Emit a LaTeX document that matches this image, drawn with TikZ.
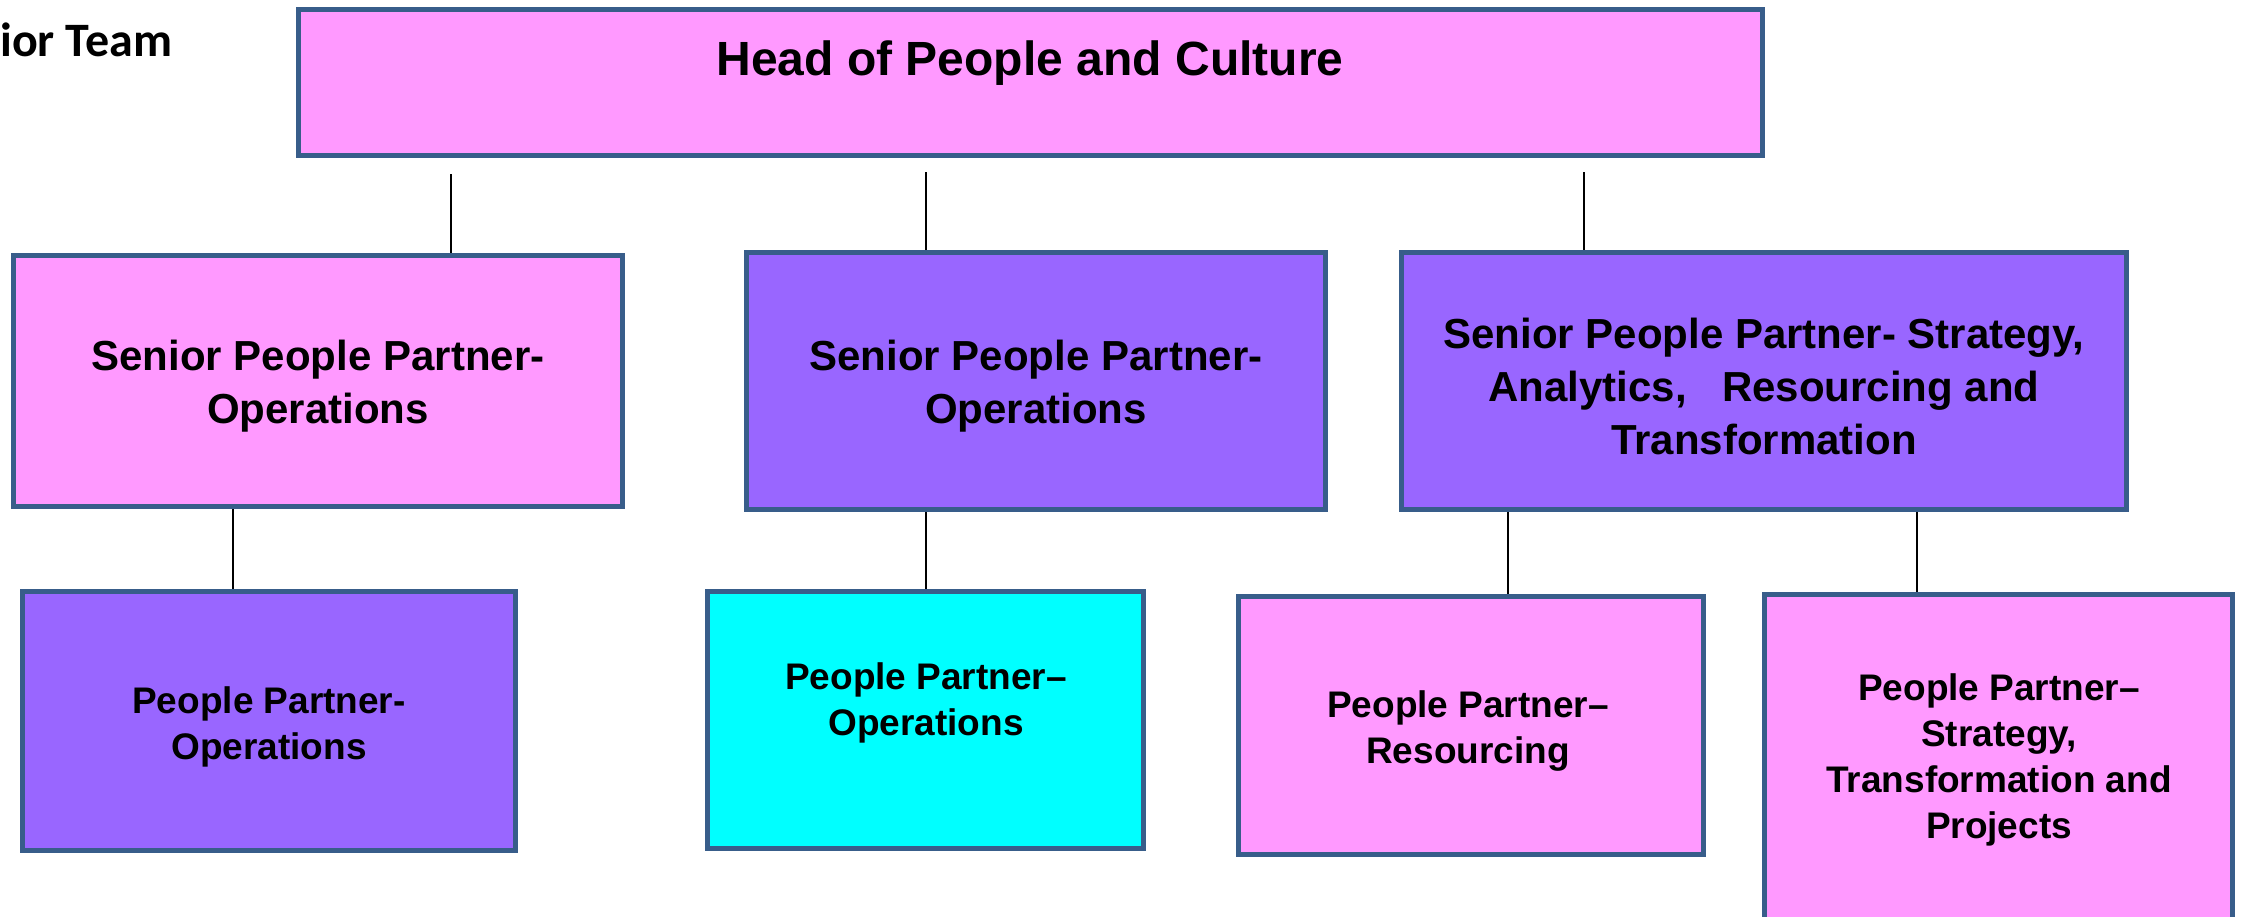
\documentclass[tikz,border=0pt]{standalone}
\usepackage{fontspec}
\setmainfont{Liberation Sans}
\newfontfamily\calibri{Carlito}
\definecolor{pinkf}{RGB}{255,153,255}
\definecolor{purplef}{RGB}{153,102,255}
\definecolor{cyanf}{RGB}{0,255,255}
\definecolor{edgec}{RGB}{56,93,138}
\begin{document}
\begin{tikzpicture}[x=1pt,y=-1pt,
  box/.style={draw=edgec, line width=5pt, rectangle, inner sep=0pt},
  bigtxt/.style={inner sep=0pt, align=center, font=\bfseries\fontsize{42}{53}\selectfont},
  smalltxt/.style={inner sep=0pt, align=center, font=\bfseries\fontsize{37}{46}\selectfont},
  conn/.style={draw=black, line width=1.6pt}]
\useasboundingbox (0,0) rectangle (2243,916);
% title fragment
\node[anchor=base west, inner sep=0pt] (senior) at (0,56) {\calibri\bfseries\fontsize{48}{58}\selectfont ior Team};
% boxes
\node[box, fill=pinkf, minimum width=1464pt, minimum height=146pt] (top) at (1030.5,82.5) {};
\node[anchor=base, inner sep=0pt] (toptext) at (1030,75) {\bfseries\fontsize{48}{58}\selectfont Head of People and Culture};
\node[box, fill=pinkf, minimum width=609pt, minimum height=251pt] (A) at (318,381) {};
\node[box, fill=purplef, minimum width=579pt, minimum height=257pt] (B) at (1036,381) {};
\node[box, fill=purplef, minimum width=725pt, minimum height=257pt] (C) at (1764,381) {};
\node[box, fill=purplef, minimum width=493pt, minimum height=259pt] (D) at (269,721) {};
\node[box, fill=cyanf, minimum width=436pt, minimum height=257pt] (E) at (925.5,720) {};
\node[box, fill=pinkf, minimum width=465pt, minimum height=258pt] (F) at (1471,725.5) {};
\node[box, fill=pinkf, minimum width=468pt, minimum height=325pt] (G) at (1998.5,757) {};
% texts
\node[bigtxt] (At) at (318,386) {Senior People Partner-\\Operations};
\node[bigtxt] (Bt) at (1036,386) {Senior People Partner-\\Operations};
\node[bigtxt] (Ct) at (1764,386) {Senior People Partner- Strategy,\\Analytics,\ \ \ Resourcing and\\Transformation};
\node[smalltxt] (Dt) at (269,727) {People Partner-\\Operations};
\node[smalltxt] (Et) at (926,703) {People Partner--\\Operations};
\node[smalltxt] (Ft) at (1468,731) {People Partner--\\Resourcing};
\node[smalltxt] (Gt) at (1999,760) {People Partner--\\Strategy,\\Transformation and\\Projects};
% connectors
\coordinate (c1) at (451,174);
\coordinate (c2) at (926,172);
\coordinate (c3) at (1584,172);
\draw[conn] (c1) -- (c1 |- A.north);
\draw[conn] (c2) -- (c2 |- B.north);
\draw[conn] (c3) -- (c3 |- C.north);
\coordinate (d1) at (233,0);
\coordinate (d2) at (926,0);
\coordinate (d3) at (1508,0);
\coordinate (d4) at (1917,0);
\draw[conn] (d1 |- A.south) -- (d1 |- D.north);
\draw[conn] (d2 |- B.south) -- (d2 |- E.north);
\draw[conn] (d3 |- C.south) -- (d3 |- F.north);
\draw[conn] (d4 |- C.south) -- (d4 |- G.north);
\end{tikzpicture}
\end{document}
